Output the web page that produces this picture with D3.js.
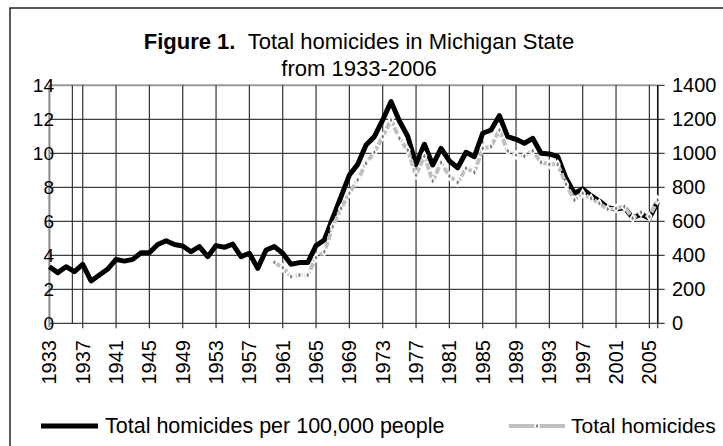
<!DOCTYPE html>
<html>
<head>
<meta charset="utf-8">
<script src="https://cdn.jsdelivr.net/npm/d3@7"></script>
<style>
  body { margin: 0; background: #fff; }
  text { font-family: Arial, "Liberation Sans", sans-serif; }
</style>
</head>
<body>
<svg id="chart" width="723" height="446"></svg>
<script>
const years = d3.range(1933, 2007);
// homicides per 100,000 people, 1933-2006 (left axis)
const ratePer100k = [
  3.33, 2.98, 3.33, 3.04, 3.47, 2.49, 2.84, 3.19, 3.76, 3.66,
  3.76, 4.15, 4.15, 4.64, 4.86, 4.64, 4.55, 4.21, 4.51, 3.92,
  4.57, 4.47, 4.66, 3.92, 4.12, 3.23, 4.31, 4.51, 4.12, 3.47,
  3.57, 3.57, 4.57, 4.9, 6.18, 7.45, 8.72, 9.35, 10.49, 10.98,
  11.96, 13.04, 11.9, 11.0, 9.35, 10.53, 9.31, 10.29, 9.55, 9.15,
  10.06, 9.8, 11.18, 11.37, 12.21, 10.98, 10.82, 10.59, 10.88, 10.0,
  9.96, 9.8, 8.53, 7.65, 7.9, 7.51, 7.19, 6.8, 6.72, 6.8,
  6.21, 6.41, 6.18, 7.15
];
// total homicides, 1960-2006 (right axis)
const homicideYears = d3.range(1960, 2007);
const totalHomicides = [
  359, 327, 274, 284, 284, 386, 421, 568, 676, 765,
  843, 941, 1006, 1098, 1196, 1088, 1019, 872, 984, 837,
  945, 866, 829, 912, 888, 1029, 1039, 1137, 1014, 990,
  984, 1014, 947, 935, 935, 818, 725, 765, 735, 706,
  671, 676, 686, 618, 653, 627, 725
];
const leftTicks = [0, 2, 4, 6, 8, 10, 12, 14];
const rightTicks = [0, 200, 400, 600, 800, 1000, 1200, 1400];
const labelYears = d3.range(1933, 2006, 4);

const svg = d3.select("#chart");

const plotLeft = 49.4, plotRight = 657.7, plotTop = 85.3, plotBottom = 323.3;

const x = d3.scalePoint().domain(years).range([plotLeft, plotRight]);
const yLeft = d3.scaleLinear().domain([0, 14]).range([plotBottom, plotTop]);
const yRight = d3.scaleLinear().domain([0, 1400]).range([plotBottom, plotTop]);

// outer frame
svg.append("rect")
  .attr("x", 10).attr("y", 8)
  .attr("width", 760).attr("height", 480)
  .attr("fill", "none")
  .attr("stroke", "#222")
  .attr("stroke-width", 1.5);

// title
const title = svg.append("text")
  .attr("x", 359).attr("y", 49)
  .attr("text-anchor", "middle")
  .attr("font-size", 22);
title.append("tspan").attr("font-weight", "bold").text("Figure 1.");
title.append("tspan").text("\u00a0\u00a0Total homicides in Michigan State");
svg.append("text")
  .attr("x", 359).attr("y", 76)
  .attr("text-anchor", "middle")
  .attr("font-size", 22)
  .text("from 1933-2006");

// horizontal gridlines
leftTicks.forEach(function (t) {
  svg.append("line")
    .attr("x1", plotLeft).attr("x2", plotRight)
    .attr("y1", yLeft(t)).attr("y2", yLeft(t))
    .attr("stroke", t === 14 ? "#999" : "#111")
    .attr("stroke-width", t === 14 ? 2 : 1);
});

// vertical gridlines + ticks
labelYears.concat([2006]).forEach(function (yr) {
  if (yr === 1933) return;
  svg.append("line")
    .attr("x1", x(yr)).attr("x2", x(yr))
    .attr("y1", plotTop).attr("y2", plotBottom + 5)
    .attr("stroke", "#333")
    .attr("stroke-width", 1.2);
});
// stray line Excel draws near the left edge
svg.append("line")
  .attr("x1", x(1933) + 2.75 * x.step()).attr("x2", x(1933) + 2.75 * x.step())
  .attr("y1", plotTop).attr("y2", plotBottom)
  .attr("stroke", "#111").attr("stroke-width", 1);

// left axis line
svg.append("line")
  .attr("x1", plotLeft).attr("x2", plotLeft)
  .attr("y1", plotTop).attr("y2", plotBottom + 4)
  .attr("stroke", "#888").attr("stroke-width", 2);
// right axis line + ticks
svg.append("line")
  .attr("x1", plotRight).attr("x2", plotRight)
  .attr("y1", plotTop).attr("y2", plotBottom)
  .attr("stroke", "#111").attr("stroke-width", 1.5);
rightTicks.forEach(function (t) {
  svg.append("line")
    .attr("x1", plotRight).attr("x2", plotRight + 7)
    .attr("y1", yRight(t)).attr("y2", yRight(t))
    .attr("stroke", "#111").attr("stroke-width", 1);
});

// left labels
leftTicks.forEach(function (t) {
  svg.append("text")
    .attr("x", 54).attr("y", yLeft(t))
    .attr("text-anchor", "end")
    .attr("dominant-baseline", "central")
    .attr("font-size", 19)
    .text(t);
});
// right labels
rightTicks.forEach(function (t) {
  svg.append("text")
    .attr("x", 672).attr("y", yRight(t))
    .attr("dominant-baseline", "central")
    .attr("font-size", 20)
    .text(t);
});
// year labels
labelYears.forEach(function (yr) {
  svg.append("text")
    .attr("transform", "translate(" + x(yr) + ",340) rotate(-90)")
    .attr("text-anchor", "end")
    .attr("dominant-baseline", "central")
    .attr("font-size", 20)
    .text(yr);
});

// rate series
const rateLine = d3.line()
  .x(function (d, i) { return x(years[i]); })
  .y(function (d) { return yLeft(d); });
svg.append("path")
  .datum(ratePer100k)
  .attr("d", rateLine)
  .attr("fill", "none")
  .attr("stroke", "#000")
  .attr("stroke-width", 5)
  .attr("stroke-linejoin", "round");

// total homicides series
const totalLine = d3.line()
  .x(function (d, i) { return x(homicideYears[i]); })
  .y(function (d) { return yRight(d); });
svg.append("path")
  .datum(totalHomicides)
  .attr("d", totalLine)
  .attr("fill", "none")
  .attr("stroke", "#c0c0c0")
  .attr("stroke-width", 4)
  .attr("stroke-dasharray", "7,2");

const diamond = d3.symbol().type(d3.symbolDiamond).size(18);
svg.selectAll(".mk")
  .data(totalHomicides)
  .join("path")
  .attr("class", "mk")
  .attr("transform", function (d, i) { return "translate(" + x(homicideYears[i]) + "," + yRight(d) + ")"; })
  .attr("d", diamond)
  .attr("fill", "#808080")
  .attr("stroke", "#fff")
  .attr("stroke-width", 1.5);

// legend
svg.append("line")
  .attr("x1", 41).attr("x2", 98)
  .attr("y1", 426).attr("y2", 426)
  .attr("stroke", "#000").attr("stroke-width", 5);
svg.append("text")
  .attr("x", 105).attr("y", 433)
  .attr("font-size", 21.5)
  .text("Total homicides per 100,000 people");
svg.append("line")
  .attr("x1", 509).attr("x2", 565)
  .attr("y1", 426).attr("y2", 426)
  .attr("stroke", "#c0c0c0").attr("stroke-width", 4);
svg.append("path")
  .attr("transform", "translate(537,426)")
  .attr("d", diamond)
  .attr("fill", "#808080")
  .attr("stroke", "#fff")
  .attr("stroke-width", 1.5);
svg.append("text")
  .attr("x", 571).attr("y", 433)
  .attr("font-size", 21)
  .text("Total homicides");
</script>
</body>
</html>
